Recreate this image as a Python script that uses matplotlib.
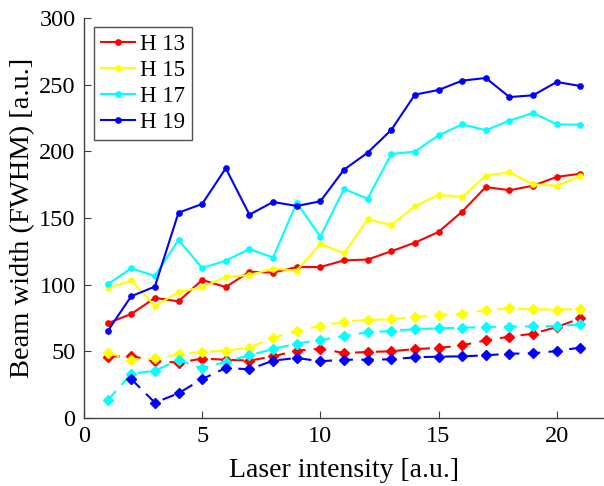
import numpy as np
import matplotlib
matplotlib.use('Agg')
import matplotlib.pyplot as plt

## Laser intensity steps
intensity = np.arange(1, 22)

## Solid lines (H13..H19)
h13 = [71, 78, 90, 87.5, 103.5, 98.2, 109.7, 109, 113.2, 113.2, 118.2,
       118.8, 125, 131.5, 139.5, 154.8, 173.2, 170.8, 174.2, 180.8, 183.2]
h15 = [97.2, 103.2, 84, 94.2, 98.2, 105.7, 107.2, 112, 110.5, 130.5, 123.5,
       149, 144.7, 158.8, 167.3, 165.8, 181.8, 184.2, 175.2, 174.2, 181.5]
h17 = [100.2, 112.2, 106.5, 133.5, 112.5, 118, 126.7, 120.3, 161.5, 136, 171.7,
       164.5, 198, 199.8, 212, 220.2, 215.8, 223, 228.8, 220.2, 220]
h19 = [65, 91.3, 98.5, 154, 160.5, 187.3, 152.5, 162, 159, 162.5, 186.2,
       199, 216, 242.5, 246, 253, 255, 240.7, 242, 252, 249]

## Dashed lines (same harmonics, second set)
h13_d = [46, 46.5, 42.7, 41.5, 44.5, 43.7, 43, 46.2, 50.5, 52, 48.7,
         49.5, 50, 51.7, 52.5, 54.5, 58.2, 61, 63.2, 68.2, 74.7]
h15_d = [49, 43.5, 44.7, 47.7, 49.7, 50.5, 52.8, 60.3, 65, 69, 72,
         73.7, 74, 75.8, 77, 78.3, 80.8, 82.2, 81.5, 81.2, 81.8]
h17_d = [13.2, 33, 35.5, 43.5, 37.2, 42.2, 47, 51.7, 55.8, 58.5, 61.5,
         64.2, 65.2, 66.7, 67.2, 67.7, 68.2, 68.5, 68.7, 69, 70.2]
h19_d = [np.nan, 29.2, 11.5, 18.5, 29.2, 37.5, 36.5, 43, 45, 42.5, 43.7,
         43.7, 44, 45.5, 46, 46.2, 47, 48.2, 48.5, 50.2, 52.8]

labels = ['H 13', 'H 15', 'H 17', 'H 19']
colors = ['#ff0000', '#ffff00', '#00ffff', '#0000ff']

plt.rcParams['font.family'] = 'Liberation Serif'
plt.rcParams['font.size'] = 17.5

fig = plt.figure(figsize=(6.04, 4.86), dpi=100)
ax = fig.add_axes([0.139, 0.140, 0.861, 0.823])

for vals, col, lab in zip([h13, h15, h17, h19], colors, labels):
    ax.plot(intensity, vals, '-', color=col, lw=1.5, marker='o', ms=3.8, label=lab)

for vals, col in zip([h13_d, h15_d, h17_d, h19_d], colors):
    ax.plot(intensity, vals, color=col, lw=1.5, ls=(0, (6, 4)), marker='D', ms=5.5)

ax.set_xlim(0, 22)
ax.set_ylim(0, 300)
ax.set_xticks([0, 5, 10, 15, 20])
ax.set_yticks(np.arange(0, 301, 50))

##  MATLAB-ish look: no box, ticks pointing inward
ax.spines['top'].set_visible(False)
ax.spines['right'].set_visible(False)
for s in ['left', 'bottom']:
    ax.spines[s].set_color('#404040')
    ax.spines[s].set_linewidth(1.0)
ax.tick_params(direction='in', length=5, color='#404040', pad=6)

ax.set_xlabel('Laser intensity [a.u.]', fontsize=20, labelpad=8)
ax.set_ylabel('Beam width (FWHM) [a.u.]', fontsize=20.5, labelpad=3)

leg = ax.legend(loc='upper left', bbox_to_anchor=(0.019, 0.978), borderaxespad=0,
                fancybox=False, edgecolor='#505050', framealpha=1,
                handlelength=1.5, handletextpad=0.2, labelspacing=0.22,
                borderpad=0.3, fontsize=16.5)
leg.get_frame().set_linewidth(1.0)

fig.savefig('out.png', dpi=100)
